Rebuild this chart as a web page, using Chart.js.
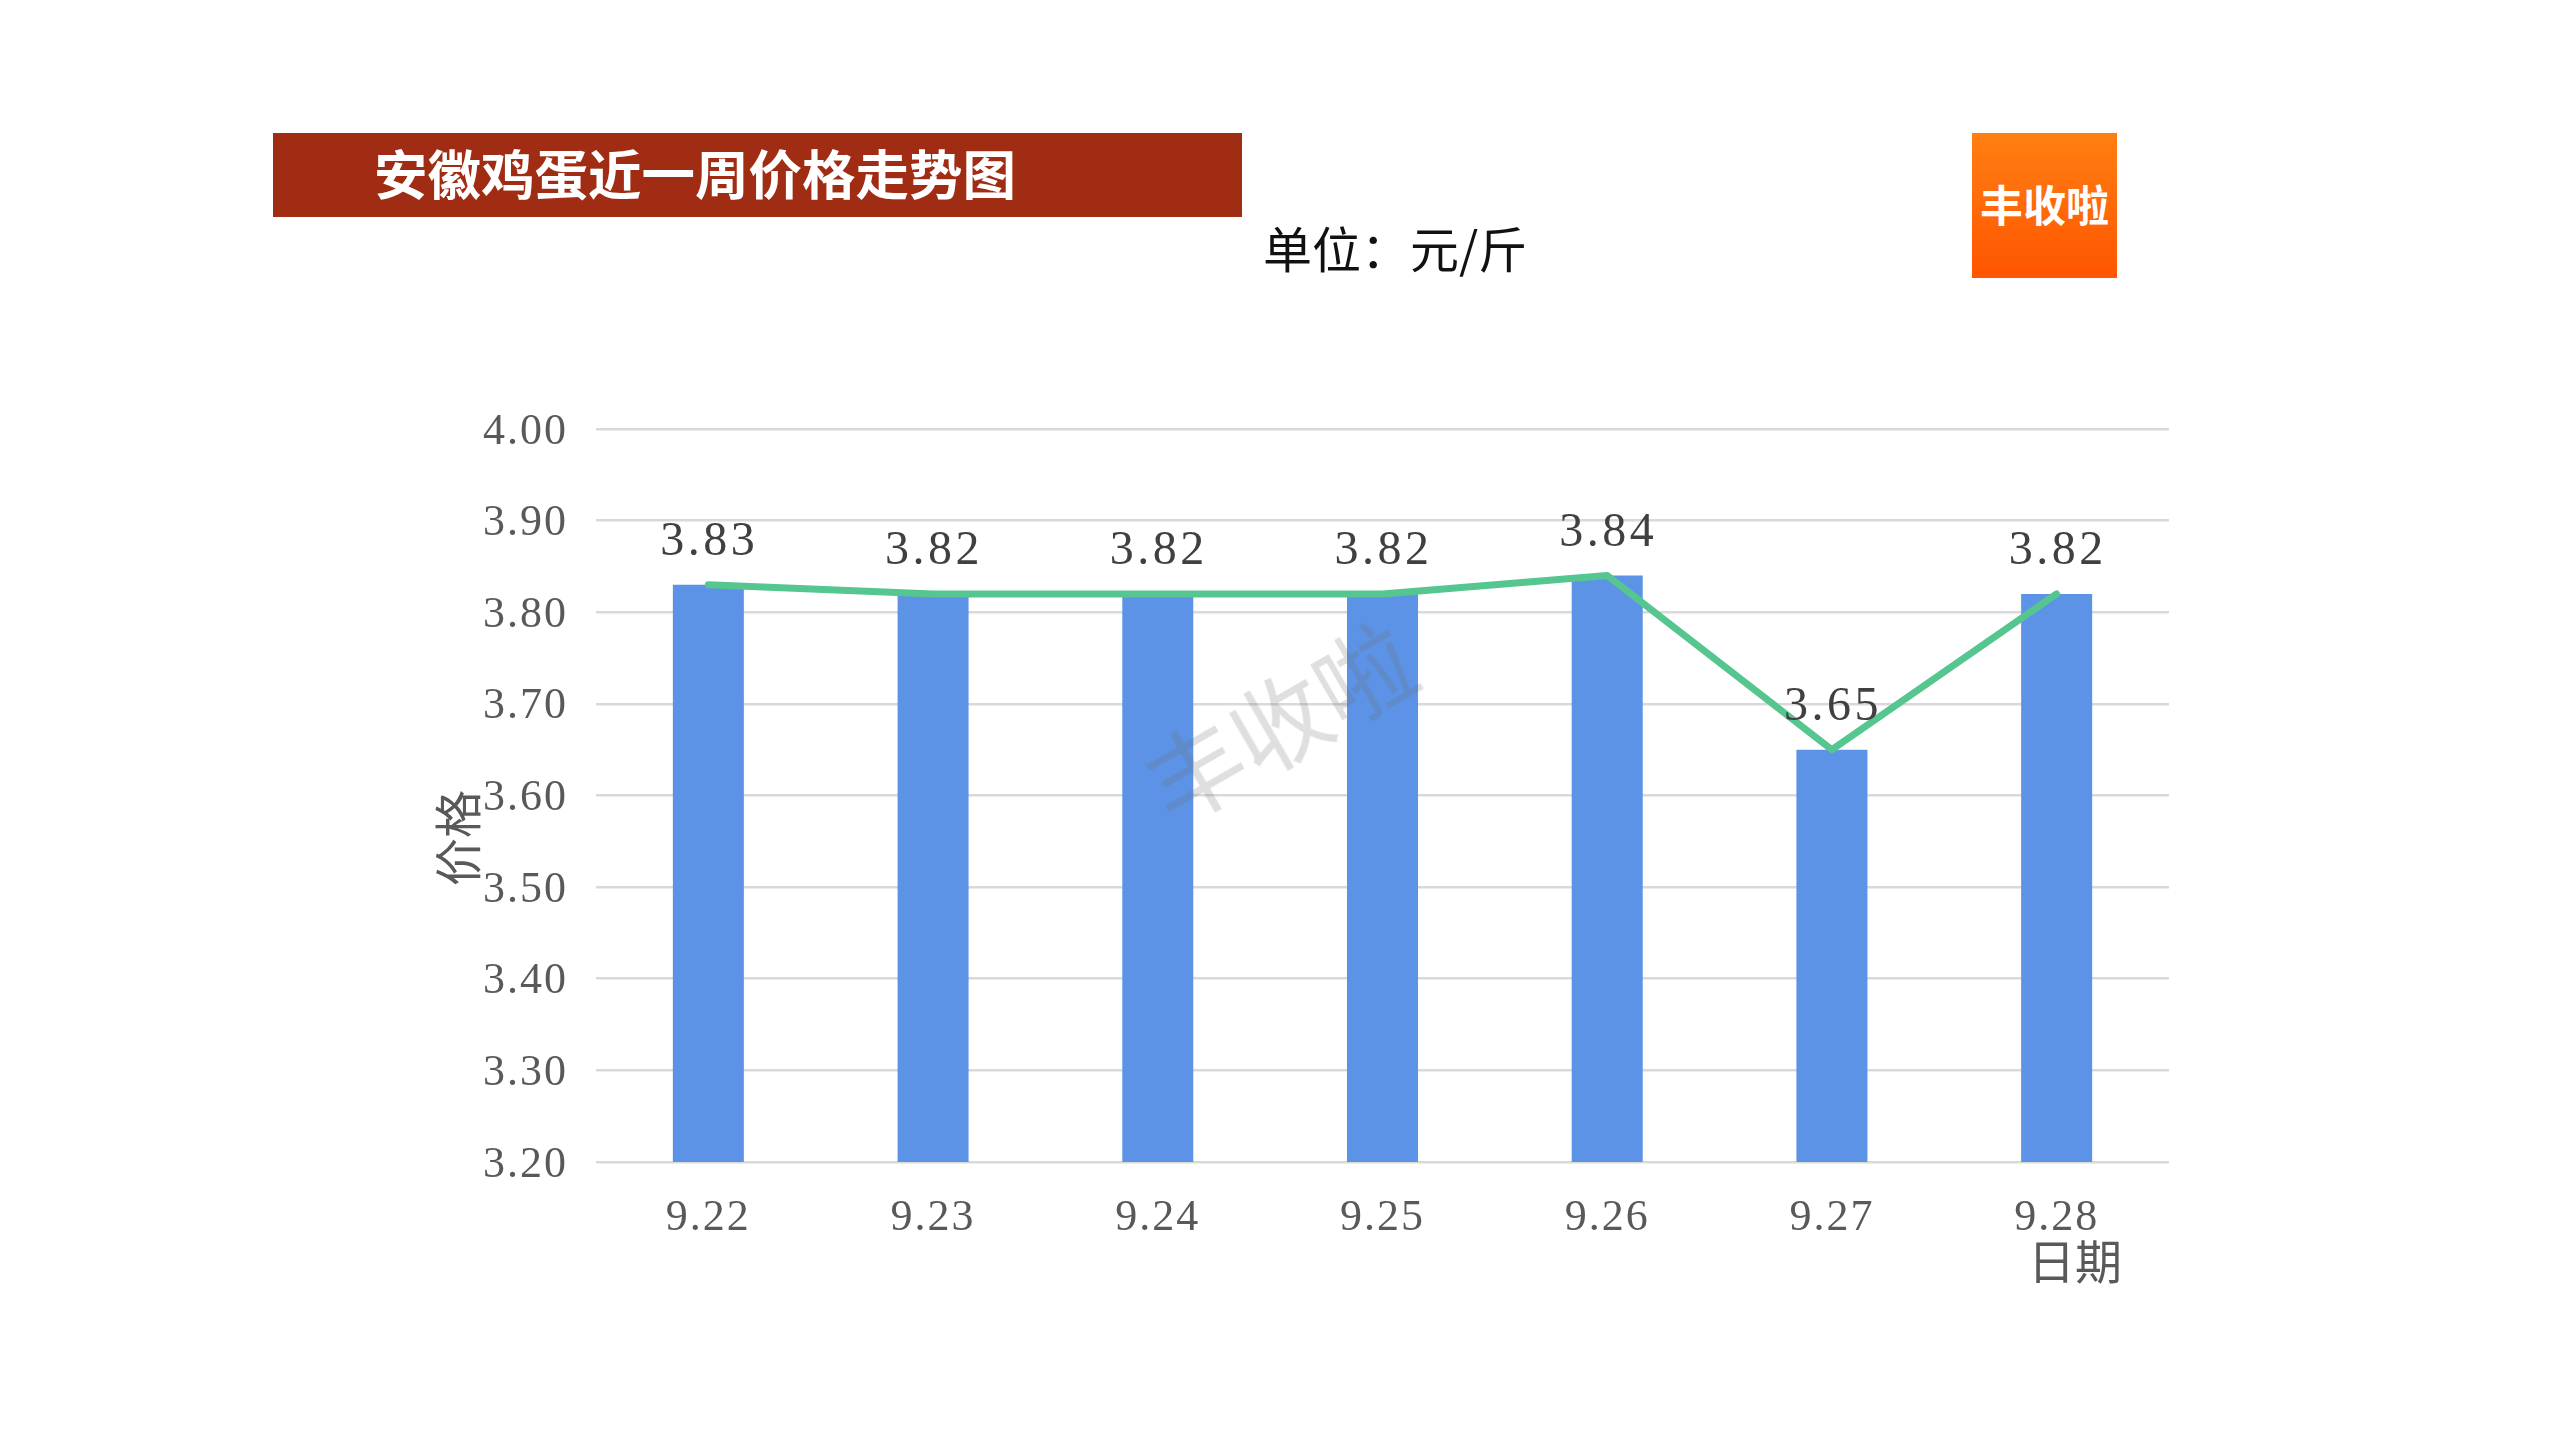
<!DOCTYPE html>
<html lang="zh-CN">
<head>
<meta charset="utf-8">
<title>安徽鸡蛋近一周价格走势图</title>
<script src="https://cdn.jsdelivr.net/npm/chart.js@4"></script>
<style>
html,body{margin:0;padding:0;background:#fff;width:2560px;height:1440px;overflow:hidden}
#wrap{position:relative;width:2560px;height:1440px}
canvas{position:absolute;left:0;top:0}
.o{position:absolute;font-family:"Noto Sans CJK SC",sans-serif;white-space:nowrap;line-height:1}
#bar{left:273px;top:133px;width:969px;height:84px;background:#A12C14}
#ttl{left:374px;top:145px;font-size:53.5px;font-weight:700;color:#fff}
#unit{left:1263px;top:222px;font-size:49px;font-weight:400;color:#111}
#logo{left:1972px;top:133px;width:145px;height:145px;background:linear-gradient(#FF7F12,#FF5500)}
#logot{left:1980px;top:182px;font-size:43px;font-weight:700;color:#fff}
#wm{left:1277px;top:718px;font-size:97px;font-weight:400;color:rgba(110,110,110,.22);transform:translate(-50%,-50%) rotate(-30deg)}
</style>
</head>
<body>
<div id="wrap">
<canvas id="c" width="2560" height="1440"></canvas>
<div class="o" id="bar"></div>
<div class="o" id="ttl">安徽鸡蛋近一周价格走势图</div>
<div class="o" id="unit">单位：元/斤</div>
<div class="o" id="logo"></div>
<div class="o" id="logot">丰收啦</div>
<div class="o" id="wm">丰收啦</div>
</div>
<script>
const categories = ["9.22","9.23","9.24","9.25","9.26","9.27","9.28"];
const barValues  = [3.83,3.82,3.82,3.82,3.84,3.65,3.82];
const lineValues = [3.83,3.82,3.82,3.82,3.84,3.65,3.82];
const yMin = 3.2, yMax = 4.0, yStep = 0.1;
const yAxisTitle = "价格", xAxisTitle = "日期";

const SERIF = '"Liberation Serif",serif';
const overlay = {
  id:'overlay',
  beforeDraw(chart){ chart.ctx.letterSpacing='2px'; },
  afterDatasetsDraw(chart){
    const ctx = chart.ctx;
    const meta = chart.getDatasetMeta(1);
    ctx.save();
    ctx.font = '48px '+SERIF;
    ctx.fillStyle = '#404040';
    ctx.textAlign = 'center';
    ctx.textBaseline = 'alphabetic';
    ctx.letterSpacing='3.5px';
    meta.data.forEach((pt,i)=>{
      ctx.fillText(lineValues[i].toFixed(2), pt.x+1, pt.y-30);
    });
    ctx.restore();
  },
  afterDraw(chart){
    const ctx = chart.ctx;
    ctx.save();
    ctx.letterSpacing='0px';
    ctx.fillStyle = '#595959';
    ctx.textAlign='center';
    ctx.textBaseline='middle';
    ctx.font = '47px "Noto Sans CJK SC",sans-serif';
    ctx.fillText(xAxisTitle, 2075, 1261);
    ctx.font = '48px "Noto Sans CJK SC",sans-serif';
    ctx.translate(458,838);
    ctx.rotate(-Math.PI/2);
    ctx.fillText(yAxisTitle, 0, 0);
    ctx.restore();
  }
};

new Chart(document.getElementById('c'),{
  data:{
    labels:categories,
    datasets:[
      {type:'bar',label:'价格',data:barValues,backgroundColor:'#5C93E6',borderWidth:0,
       barPercentage:0.316,categoryPercentage:1,order:2},
      {type:'line',label:'走势',data:lineValues,borderColor:'#55C690',borderWidth:7,
       pointRadius:0,tension:0,fill:false,borderCapStyle:'round',borderJoinStyle:'round',order:1}
    ]
  },
  options:{
    responsive:false,
    animation:false,
    devicePixelRatio:1,
    layout:{padding:{left:0,top:429,right:391,bottom:0}},
    plugins:{legend:{display:false},title:{display:false},tooltip:{enabled:false}},
    scales:{
      x:{
        offset:true,
        afterFit(s){s.height=278;},
        grid:{display:false},
        border:{display:false},
        ticks:{font:{family:SERIF,size:44},color:'#595959',padding:22,autoSkip:false,maxRotation:0}
      },
      y:{
        min:yMin,max:yMax,
        afterFit(s){s.width=596;},
        grid:{color:'#D9D9D9',lineWidth:2.5,drawTicks:false},
        border:{display:false},
        ticks:{stepSize:yStep,font:{family:SERIF,size:44},color:'#595959',padding:28,labelOffset:3,
               callback:v=>Number(v).toFixed(2)}
      }
    }
  },
  plugins:[overlay]
});
</script>
</body>
</html>
